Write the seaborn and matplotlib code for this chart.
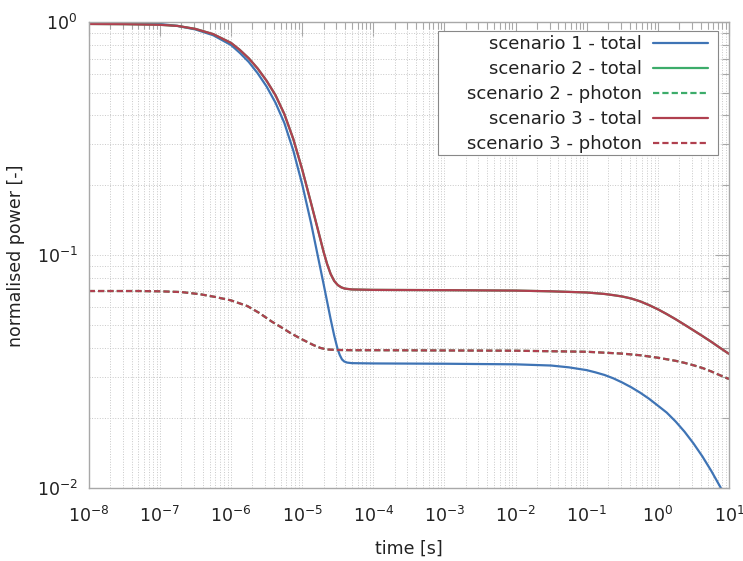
import pandas as pd
import matplotlib
matplotlib.use("Agg")
import matplotlib.pyplot as plt
import seaborn as sns
from matplotlib.patches import Rectangle
from matplotlib.ticker import FixedLocator, LogLocator, NullFormatter

# time [s] and normalised power
t_s1_total = [1e-8, 3.16e-8, 1e-7, 1.78e-7, 3.16e-7, 5.62e-7, 1e-6, 1.33e-6,
              1.78e-6, 2.37e-6, 3.16e-6, 4.22e-6, 5.62e-6, 7.5e-6, 1e-5, 1.33e-5,
              1.78e-5, 2.0e-5, 2.24e-5, 2.51e-5, 2.82e-5, 3.16e-5, 3.39e-5,
              3.63e-5, 3.89e-5, 4.27e-5, 5.01e-5, 1e-4, 1e-3, 1e-2, 3.16e-2,
              5.62e-2, 0.1, 0.133, 0.178, 0.237, 0.316, 0.422, 0.562, 0.75, 1.0,
              1.33, 1.78, 2.37, 3.16, 4.22, 5.62, 7.5, 10.0]
p_s1_total = [1.005, 1.0, 0.985, 0.966, 0.933, 0.881, 0.80, 0.740, 0.676, 0.605,
              0.531, 0.452, 0.370, 0.282, 0.202, 0.138, 0.0895, 0.0753, 0.0634,
              0.0533, 0.0452, 0.0394, 0.0372, 0.0357, 0.0350, 0.0346, 0.0344,
              0.0343, 0.0342, 0.0340, 0.0336, 0.0330, 0.0321, 0.0314, 0.0306,
              0.0296, 0.0284, 0.0271, 0.0257, 0.0242, 0.0226, 0.0211, 0.0193,
              0.01746, 0.01556, 0.01368, 0.01186, 0.01014, 0.00857]

t_s2_total = [1e-8, 3.16e-8, 1e-7, 1.78e-7, 3.16e-7, 5.62e-7, 1e-6, 1.33e-6,
              1.78e-6, 2.37e-6, 3.16e-6, 4.22e-6, 5.62e-6, 7.5e-6, 1e-5, 1.33e-5,
              1.78e-5, 2.0e-5, 2.24e-5, 2.51e-5, 2.82e-5, 3.16e-5, 3.55e-5,
              3.98e-5, 5.01e-5, 1e-4, 1e-3, 1e-2, 3.16e-2, 0.1, 0.178, 0.237,
              0.316, 0.422, 0.562, 0.75, 1.0, 1.33, 1.78, 2.37, 3.16, 4.22,
              5.62, 7.5, 10.0]
p_s2_total = [0.985, 0.983, 0.977, 0.966, 0.938, 0.891, 0.817, 0.762, 0.701,
              0.634, 0.562, 0.487, 0.404, 0.316, 0.234, 0.168, 0.119, 0.1035,
              0.0918, 0.0832, 0.0776, 0.0745, 0.0728, 0.0719, 0.0713, 0.0710,
              0.0708, 0.0705, 0.0700, 0.0692, 0.0682, 0.0674, 0.0665, 0.0652,
              0.0634, 0.0611, 0.0586, 0.0559, 0.0531, 0.0503, 0.0476, 0.0450,
              0.0425, 0.0400, 0.0377]

t_s2_photon = [1e-8, 5e-8, 1e-7, 2e-7, 3.7e-7, 6e-7, 1e-6, 1.7e-6, 2.5e-6,
               3.7e-6, 5e-6, 6.8e-6, 9.3e-6, 1.2e-5, 1.45e-5, 1.8e-5, 2.2e-5,
               3e-5, 5e-5, 1e-4, 1e-2, 0.1, 0.316, 0.562, 1.0, 1.78, 2.37, 3.16,
               4.22, 5.62, 7.5, 10.0]
p_s2_photon = [0.0702, 0.0702, 0.0700, 0.0695, 0.0680, 0.0662, 0.0640, 0.0605,
               0.0565, 0.0520, 0.0492, 0.0464, 0.0440, 0.0423, 0.0411, 0.0400,
               0.0394, 0.0392, 0.0391, 0.0391, 0.0389, 0.0385, 0.0378, 0.0372,
               0.0363, 0.0352, 0.0345, 0.0337, 0.0328, 0.0317, 0.0305, 0.0294]

# scenario 3 lies on top of scenario 2
t_s3_total = list(t_s2_total)
p_s3_total = list(p_s2_total)
t_s3_photon = list(t_s2_photon)
p_s3_photon = list(p_s2_photon)

x_ticks = [1e-8, 1e-7, 1e-6, 1e-5, 1e-4, 1e-3, 1e-2, 1e-1, 1e0, 1e1]
y_ticks = [1e-2, 1e-1, 1e0]

labels = ["scenario 1 - total", "scenario 2 - total", "scenario 2 - photon",
          "scenario 3 - total", "scenario 3 - photon"]
series = [(t_s1_total, p_s1_total), (t_s2_total, p_s2_total),
          (t_s2_photon, p_s2_photon), (t_s3_total, p_s3_total),
          (t_s3_photon, p_s3_photon)]
colors = ["#3f74b5", "#3cac6a", "#3cac6a", "#b0404f", "#b0404f"]
dashed = [False, False, True, False, True]

sns.set_style("white")
plt.rcParams["font.family"] = ["DejaVu Sans"]
plt.rcParams["mathtext.fontset"] = "dejavusans"

fig = plt.figure(figsize=(7.43, 5.61), dpi=100)
ax = fig.add_axes([0.1194, 0.130, 0.8618, 0.830])

for (t, p), lab, col, dsh in zip(series, labels, colors, dashed):
    df = pd.DataFrame({"time": t, "power": p})
    sns.lineplot(data=df, x="time", y="power", ax=ax, color=col,
                 linewidth=1.6, label=lab, sort=False)
    if dsh:
        ax.lines[-1].set_dashes([2.8, 1.4])

ax.set_xscale("log")
ax.set_yscale("log")
ax.set_xlim(x_ticks[0], x_ticks[-1])
ax.set_ylim(y_ticks[0], y_ticks[-1])

ax.xaxis.set_major_locator(FixedLocator(x_ticks))
ax.yaxis.set_major_locator(FixedLocator(y_ticks))
ax.xaxis.set_minor_locator(LogLocator(base=10, subs=range(2, 10), numticks=200))
ax.yaxis.set_minor_locator(LogLocator(base=10, subs=range(2, 10), numticks=200))
ax.xaxis.set_minor_formatter(NullFormatter())
ax.yaxis.set_minor_formatter(NullFormatter())

ax.grid(True, which="both", linestyle=":", color="#c8c8c8", linewidth=0.7)
ax.set_axisbelow(True)

for sp in ax.spines.values():
    sp.set_color("#a8a8a8")
    sp.set_linewidth(1.0)

ax.tick_params(which="both", direction="in", top=True, right=True,
               color="#a8a8a8", labelcolor="#222222")
ax.tick_params(which="major", length=10, width=0.8, labelsize=12.5)
ax.tick_params(which="minor", length=5, width=0.8)
ax.tick_params(axis="x", which="major", pad=13)
ax.tick_params(axis="y", which="major", pad=8)

ax.set_xlabel("time [s]", fontsize=12.5, color="#222222", labelpad=10)
ax.set_ylabel("normalised power [-]", fontsize=12.5, color="#222222", labelpad=8)

# legend: entries right-aligned, frame drawn as a separate box
leg = ax.legend(loc="upper right", bbox_to_anchor=(0.9672, 0.973), fontsize=13,
                markerfirst=False, alignment="right", frameon=False,
                handlelength=3.05, handletextpad=0.6, labelspacing=0.39,
                borderaxespad=0.0, borderpad=0.0)
for txt in leg.get_texts():
    txt.set_color("#222222")
ax.add_patch(Rectangle((0.5455, 0.7154), 0.4373, 0.2663, transform=ax.transAxes,
                       facecolor="white", edgecolor="#888888", linewidth=0.8,
                       zorder=4.5))
leg.set_zorder(5)

fig.savefig("out.png", dpi=100)
